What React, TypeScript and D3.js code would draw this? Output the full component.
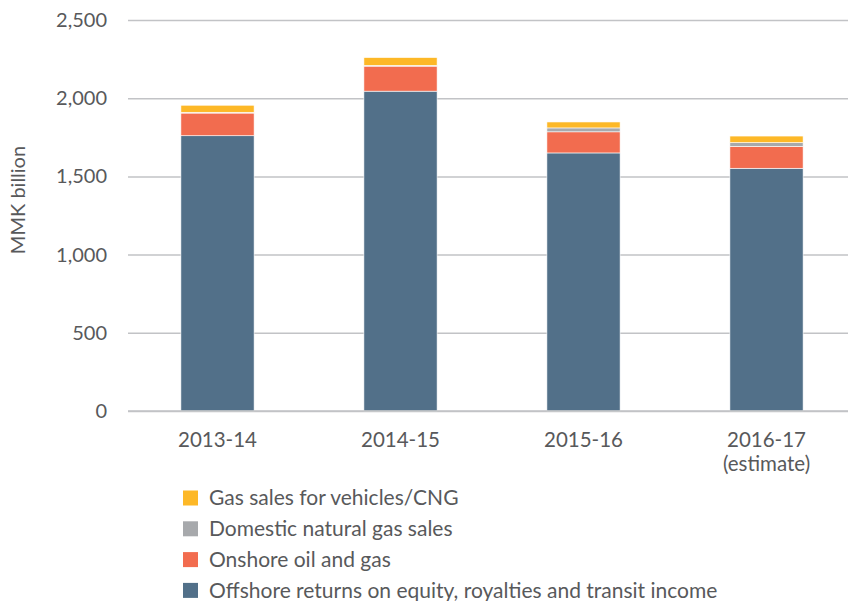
import { useEffect, useRef } from "react";
import * as d3 from "d3";

const years = ["2013-14", "2014-15", "2015-16", "2016-17"];
const yearNotes = ["", "", "", "(estimate)"];
const offshore = [1760, 2045, 1650, 1552];
const onshore = [145, 160, 135, 140];
const domestic = [5, 5, 25, 24];
const cng = [45, 50, 38, 42];

const seriesKeys = ["offshore", "onshore", "domestic", "cng"];
const seriesLabels = [
  "Offshore returns on equity, royalties and transit income",
  "Onshore oil and gas",
  "Domestic natural gas sales",
  "Gas sales for vehicles/CNG",
];
const seriesColors = ["#527089", "#F26C4F", "#A7A9AC", "#FDB827"];
const yTicks = [0, 500, 1000, 1500, 2000, 2500];

const font = "Lato, 'Open Sans', sans-serif";
const textColor = "#58595B";

export default function App() {
  const width = 849;
  const height = 601;
  const marginTop = 20;
  const marginBottom = 190;
  const yAxis = useRef(null);

  const table = years.map((y, i) => ({
    year: y,
    offshore: offshore[i],
    onshore: onshore[i],
    domestic: domestic[i],
    cng: cng[i],
  }));
  const stacked = d3.stack<any>().keys(seriesKeys)(table);

  const x = d3
    .scaleBand()
    .domain(years)
    .range([126, 858])
    .paddingInner(0.6)
    .paddingOuter(0.3);
  const y = d3.scaleLinear([0, 2500], [height - marginBottom, marginTop]);

  useEffect(() => {
    const g = d3.select(yAxis.current);
    g.selectAll("*").remove();
    g.attr("transform", `translate(${128},0)`).call(
      d3
        .axisLeft(y)
        .tickValues(yTicks)
        .tickFormat(d3.format(","))
        .tickSize(-720)
        .tickPadding(21)
    );
    g.select(".domain").remove();
    g.selectAll(".tick line")
      .attr("stroke", "#c2c3c6")
      .attr("stroke-width", 1.5);
    g.selectAll(".tick text")
      .attr("fill", textColor)
      .attr("font-size", 20)
      .attr("font-family", font);
  }, []);

  return (
    <svg width={width} height={height} style={{ position: "absolute", left: 0, top: 0 }}>
      <g ref={yAxis}></g>
      <text
        transform={`translate(25,200) rotate(-90)`}
        textAnchor="middle"
        fontSize={20}
        fontFamily={font}
        fill={textColor}
      >
        MMK billion
      </text>
      {stacked.map((s, si) => (
        <g key={s.key} fill={seriesColors[si]} stroke="#fff" strokeWidth={0.6}>
          {s.map((d: any, i: number) => (
            <rect
              key={i}
              x={x(years[i])}
              y={y(d[1])}
              width={x.bandwidth()}
              height={y(d[0]) - y(d[1])}
            />
          ))}
        </g>
      ))}
      <line
        x1={128}
        x2={848}
        y1={y(0)}
        y2={y(0)}
        stroke="#c2c3c6"
        strokeWidth={1.5}
      />
      {years.map((yr, i) => (
        <g key={yr}>
          <text
            x={x(yr)! + x.bandwidth() / 2}
            y={447}
            textAnchor="middle"
            fontSize={20.5}
            fontFamily={font}
            fill={textColor}
          >
            {yr}
          </text>
          {yearNotes[i] && (
            <text
              x={x(yr)! + x.bandwidth() / 2}
              y={471}
              textAnchor="middle"
              fontSize={20.5}
              fontFamily={font}
              fill={textColor}
            >
              {yearNotes[i]}
            </text>
          )}
        </g>
      ))}
      {seriesLabels
        .map((label, i) => ({ label, color: seriesColors[i] }))
        .reverse()
        .map((d, i) => (
          <g key={d.label} transform={`translate(183,${498 + i * 30.8})`}>
            <rect x={0} y={-7.5} width={15} height={15} fill={d.color} />
            <text
              x={26}
              y={7.3}
              fontSize={21}
              fontFamily={font}
              fill={textColor}
            >
              {d.label}
            </text>
          </g>
        ))}
    </svg>
  );
}
